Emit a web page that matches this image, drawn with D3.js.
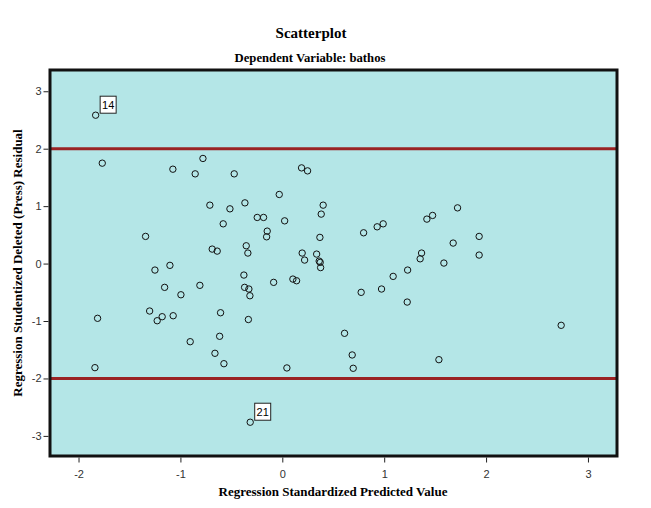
<!DOCTYPE html>
<html>
<head>
<meta charset="utf-8">
<script src="https://cdn.jsdelivr.net/npm/d3@7"></script>
<style>
  body { margin: 0; background: #fff; }
</style>
</head>
<body>
<svg id="chart"></svg>
<script>
// predicted value (x) and studentized deleted residual (y)
let predicted = [
  -1.832, -1.767, -1.074, -0.779, -0.855, -0.472, 0.189, 0.248, -0.030, -0.711,
  -0.514, -0.367, -0.580, -1.342, -0.688, -0.639, -0.354, -0.338, -1.250, -1.103,
  0.401, 0.382, -0.246, -0.184, 0.023, -0.148, -0.154, 0.369, 0.195, 0.337,
  0.219, 0.362, 0.372, 0.376, 0.798, 0.931, 0.990, 1.419, 1.475, 1.720,
  1.932, 1.677, 1.367, 1.353, 1.932, 1.586, 1.230, -0.377, -1.155, -0.809,
  -0.995, -0.370, -0.328, -0.318, -1.813, -1.302, -1.179, -1.228, -1.071, -0.606,
  -0.333, -0.904, -0.615, -0.661, -0.573, -1.839, -0.315, -0.085, 0.104, 0.140,
  1.088, 0.774, 0.974, 1.226, 0.611, 0.686, 0.696, 0.045, 2.737, 1.537
];
let residual = [
  2.583, 1.748, 1.643, 1.830, 1.562, 1.562, 1.666, 1.614, 1.203, 1.017,
  0.953, 1.057, 0.692, 0.473, 0.252, 0.217, 0.310, 0.183, -0.113, -0.031,
  1.017, 0.861, 0.803, 0.803, 0.744, 0.565, 0.466, 0.456, 0.183, 0.165,
  0.061, 0.043, 0.021, -0.070, 0.536, 0.640, 0.692, 0.774, 0.838, 0.970,
  0.473, 0.357, 0.183, 0.083, 0.148, 0.009, -0.113, -0.200, -0.414, -0.379,
  -0.543, -0.414, -0.443, -0.560, -0.953, -0.826, -0.925, -0.995, -0.908, -0.856,
  -0.974, -1.360, -1.266, -1.562, -1.743, -1.812, -2.762, -0.327, -0.270, -0.299,
  -0.223, -0.501, -0.443, -0.670, -1.214, -1.591, -1.823, -1.817, -1.075, -1.673
];
// case labels shown next to the outliers (index into the arrays above)
let caseLabels = [{ idx: 0, text: "14" }, { idx: 66, text: "21" }];
let refLines = [2, -2];
let xTicks = [-2, -1, 0, 1, 2, 3];
let yTicks = [-3, -2, -1, 0, 1, 2, 3];

let width = 651, height = 508;
let margin = { top: 70, right: 34, bottom: 52, left: 50 };

let svg = d3.select("#chart").attr("width", width).attr("height", height);

let x = d3.scaleLinear().domain([-2.28, 3.285]).range([margin.left, width - margin.right]);
let y = d3.scaleLinear().domain([-3.35, 3.37]).range([height - margin.bottom, margin.top]);

let serif = "'Liberation Serif', 'Times New Roman', serif";
let sans = "'Liberation Sans', Arial, sans-serif";

// plot background
svg.append("rect")
  .attr("x", margin.left).attr("y", margin.top)
  .attr("width", width - margin.left - margin.right)
  .attr("height", height - margin.top - margin.bottom)
  .attr("fill", "#b4e6e7");

// reference lines
svg.selectAll(".ref").data(refLines).enter()
  .append("line")
  .attr("x1", margin.left).attr("x2", width - margin.right)
  .attr("y1", d => y(d)).attr("y2", d => y(d))
  .attr("stroke", "#9a2324").attr("stroke-width", 3);

// points
svg.selectAll(".pt").data(predicted).enter()
  .append("circle")
  .attr("cx", d => x(d))
  .attr("cy", (d, i) => y(residual[i]))
  .attr("r", 3.2)
  .attr("fill", "none")
  .attr("stroke", "#111")
  .attr("stroke-width", 1);

// case labels
let lab = svg.selectAll(".lab").data(caseLabels).enter().append("g")
  .attr("transform", d => `translate(${x(predicted[d.idx]) + 4.5},${y(residual[d.idx]) - 19})`);
lab.append("rect")
  .attr("width", 16).attr("height", 17)
  .attr("fill", "#fff").attr("stroke", "#222").attr("stroke-width", 1);
lab.append("text")
  .attr("x", 8).attr("y", 13)
  .attr("text-anchor", "middle")
  .attr("font-family", sans).attr("font-size", 11)
  .text(d => d.text);

// frame
svg.append("rect")
  .attr("x", margin.left).attr("y", margin.top)
  .attr("width", width - margin.left - margin.right)
  .attr("height", height - margin.top - margin.bottom)
  .attr("fill", "none").attr("stroke", "#111").attr("stroke-width", 3);

// axes (plain hyphen for negatives, as in the original)
let fmt = d => String(d);
let xAxis = svg.append("g")
  .attr("transform", `translate(0,${height - margin.bottom + 1.5})`)
  .call(d3.axisBottom(x).tickValues(xTicks).tickSize(5).tickSizeOuter(0).tickFormat(fmt));
let yAxis = svg.append("g")
  .attr("transform", `translate(${margin.left - 1.5},0)`)
  .call(d3.axisLeft(y).tickValues(yTicks).tickSize(5).tickSizeOuter(0).tickFormat(fmt));
[xAxis, yAxis].forEach(a => {
  a.select(".domain").remove();
  a.selectAll("line").attr("stroke", "#222");
  a.selectAll("text").attr("font-family", sans).attr("font-size", 11).attr("fill", "#333");
});
xAxis.selectAll("text").attr("dy", "1.1em");
yAxis.selectAll("text").attr("x", -7);

// titles
svg.append("text")
  .attr("x", 311).attr("y", 38)
  .attr("text-anchor", "middle")
  .attr("font-family", serif).attr("font-weight", "bold").attr("font-size", 15)
  .text("Scatterplot");
svg.append("text")
  .attr("x", 310).attr("y", 62)
  .attr("text-anchor", "middle")
  .attr("font-family", serif).attr("font-weight", "bold").attr("font-size", 12.7)
  .text("Dependent Variable: bathos");
svg.append("text")
  .attr("x", 333).attr("y", 496)
  .attr("text-anchor", "middle")
  .attr("font-family", serif).attr("font-weight", "bold").attr("font-size", 13)
  .text("Regression Standardized Predicted Value");
svg.append("text")
  .attr("transform", "translate(22,263) rotate(-90)")
  .attr("text-anchor", "middle")
  .attr("font-family", serif).attr("font-weight", "bold").attr("font-size", 13)
  .text("Regression Studentized Deleted (Press) Residual");
</script>
</body>
</html>
